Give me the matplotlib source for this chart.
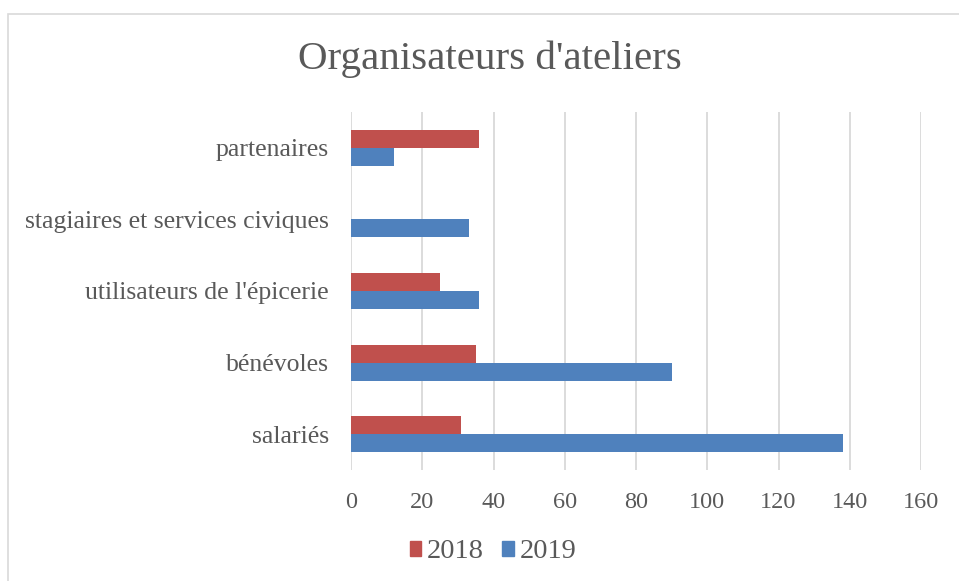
import matplotlib
matplotlib.use("Agg")
import matplotlib.pyplot as plt
import numpy as np
from matplotlib.patches import Rectangle, Patch

categories = ["salariés", "bénévoles", "utilisateurs de l'épicerie",
              "stagiaires et services civiques", "partenaires"]
values_2018 = [31, 35, 25, 0, 36]
values_2019 = [138, 90, 36, 33, 12]
series_names = ["2018", "2019"]
x_ticks = [0, 20, 40, 60, 80, 100, 120, 140, 160]

RED = "#C0504D"
BLUE = "#4F81BD"
TXT = "#595959"
GRID = "#D9D9D9"

plt.rcParams['font.family'] = ['Liberation Serif', 'DejaVu Serif']

fig = plt.figure(figsize=(9.59, 5.81), dpi=100)
fig.patches.append(Rectangle((8/959, -0.1), 1.2, 1.1 - 14/581, transform=fig.transFigure,
                             fill=False, edgecolor=GRID, linewidth=1.2, zorder=0))

ax = fig.add_axes([351/959, 1 - 470/581, (921 - 351)/959, (470 - 112)/581])
y = np.arange(len(categories))
h = 0.25
ax.barh(y + h/2, values_2018, height=h, color=RED, label=series_names[0], zorder=3)
ax.barh(y - h/2, values_2019, height=h, color=BLUE, label=series_names[1], zorder=3)

ax.set_xlim(0, 160)
ax.set_ylim(-0.5, len(categories) - 0.5)
ax.set_xticks(x_ticks)
ax.set_xticklabels([str(t) for t in x_ticks])
ax.set_yticks(y)
ax.set_yticklabels(categories)
ax.xaxis.grid(True, color=GRID, linewidth=1.3, zorder=0)
ax.set_axisbelow(True)
for s in ax.spines.values():
    s.set_visible(False)
ax.tick_params(axis='both', length=0, colors=TXT)
ax.tick_params(axis='x', pad=16, labelsize=17.5)
ax.tick_params(axis='y', pad=16, labelsize=18.5)

fig.text(490/959, 1 - 59/581, "Organisateurs d'ateliers", ha='center', va='center',
         fontsize=29.5, color=TXT)

handles = [Patch(color=RED, label=series_names[0]), Patch(color=BLUE, label=series_names[1])]
fig.legend(handles=handles, loc='center', bbox_to_anchor=(493/959, 1 - 552/581), ncol=2,
           frameon=False, fontsize=20.5, labelcolor=TXT, handlelength=0.4, handleheight=0.45,
           handletextpad=0.2, columnspacing=0.65)

fig.savefig("out.png", dpi=100)
